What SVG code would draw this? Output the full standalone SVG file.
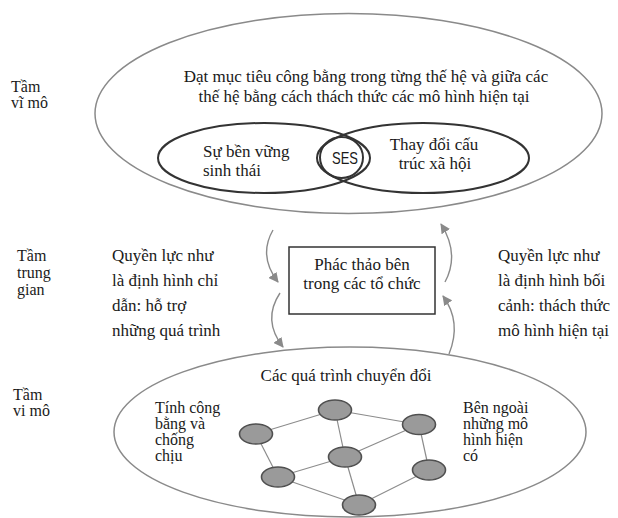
<svg xmlns="http://www.w3.org/2000/svg" width="618" height="518" viewBox="0 0 618 518">
<style>
text{font-family:"Liberation Serif","Times New Roman",serif;fill:#1a1a1a;font-size:17px}
.side{font-size:16px}
.small{font-size:16px}
.mid{text-anchor:middle}
.sans{font-family:"Liberation Sans",Arial,sans-serif;font-size:17px}
.gray{fill:none;stroke:#8a8a8a;stroke-width:1.5}
.dark{fill:none;stroke:#333;stroke-width:2}
.node{fill:#9a9a9a;stroke:#505050;stroke-width:1.6}
.edge{stroke:#8c8c8c;stroke-width:1.2;fill:none}
.arr{fill:none;stroke:#8a8a8a;stroke-width:1.4;marker-end:url(#ah)}
</style>
<defs>
<marker id="ah" viewBox="0 0 10 10" refX="9" refY="5" markerWidth="10" markerHeight="10" markerUnits="userSpaceOnUse" orient="auto">
<path d="M0,0 L10,5 L0,10 z" fill="#8a8a8a"/>
</marker>
</defs>
<rect width="618" height="518" fill="#fff"/>

<g id="label-macro">
<text class="side" x="11" y="92">Tầm</text>
<text class="side" x="11" y="108">vĩ mô</text>
</g>
<g id="label-meso">
<text class="side" x="17" y="261">Tầm</text>
<text class="side" x="17" y="278">trung</text>
<text class="side" x="17" y="295">gian</text>
</g>
<g id="label-micro">
<text class="side" x="13" y="400">Tầm</text>
<text class="side" x="13" y="416">vi mô</text>
</g>

<g id="macro">
<ellipse class="gray" cx="348.5" cy="113.5" rx="253.5" ry="100"/>
<text class="mid" x="366" y="82">Đạt mục tiêu công bằng trong từng thế hệ và giữa các</text>
<text class="mid" x="364" y="102">thế hệ bằng cách thách thức các mô hình hiện tại</text>
</g>
<g id="eco">
<ellipse class="dark" cx="264" cy="158" rx="106" ry="35"/>
<text x="203" y="157">Sự bền vững</text>
<text x="203" y="176">sinh thái</text>
</g>
<g id="social">
<ellipse class="dark" cx="423" cy="158" rx="106" ry="35"/>
<text class="mid" x="434" y="150">Thay đổi cấu</text>
<text class="mid" x="435" y="169">trúc xã hội</text>
</g>
<g id="ses">
<ellipse class="dark" cx="341.5" cy="157.5" rx="21.5" ry="20.5"/>
<text class="sans mid" x="345" y="164" textLength="26" lengthAdjust="spacingAndGlyphs">SES</text>
</g>

<g id="left-text">
<text x="112" y="261">Quyền lực như</text>
<text x="112" y="286">là định hình chỉ</text>
<text x="112" y="311">dẫn: hỗ trợ</text>
<text x="112" y="336">những quá trình</text>
</g>
<g id="right-text">
<text x="498" y="261">Quyền lực như</text>
<text x="498" y="286">là định hình bối</text>
<text x="498" y="311">cảnh: thách thức</text>
<text x="498" y="336">mô hình hiện tại</text>
</g>
<g id="org">
<rect x="289" y="247" width="146" height="67" fill="none" stroke="#333" stroke-width="1.5"/>
<text class="mid" x="362" y="270">Phác thảo bên</text>
<text class="mid" x="362" y="289">trong các tổ chức</text>
</g>

<g id="micro">
<ellipse class="gray" cx="350" cy="432" rx="236" ry="85"/>
<text class="mid" x="346" y="381">Các quá trình chuyển đổi</text>
<text class="small" x="155" y="413">Tính công</text>
<text class="small" x="155" y="429">bằng và</text>
<text class="small" x="155" y="445">chống</text>
<text class="small" x="155" y="461">chịu</text>
<text class="small" x="463" y="413">Bên ngoài</text>
<text class="small" x="463" y="429">những mô</text>
<text class="small" x="463" y="445">hình hiện</text>
<text class="small" x="463" y="461">có</text>
</g>

<g id="connectors">
<path class="arr" d="M273,230 Q258,256 278,282"/>
<path class="arr" d="M280,293 Q262,320 283,347"/>
<path class="arr" d="M449,354 Q462,322 443,296"/>
<path class="arr" d="M445,282 Q460,254 441,224"/>
<g class="edge">
<line x1="256" y1="434" x2="335" y2="410"/>
<line x1="335" y1="410" x2="419" y2="424.5"/>
<line x1="335" y1="410" x2="345" y2="457"/>
<line x1="345" y1="457" x2="419" y2="424.5"/>
<line x1="419" y1="424.5" x2="429" y2="470"/>
<line x1="256" y1="434" x2="278" y2="477"/>
<line x1="278" y1="477" x2="345" y2="457"/>
<line x1="345" y1="457" x2="359" y2="505"/>
<line x1="278" y1="477" x2="359" y2="505"/>
<line x1="429" y1="470" x2="359" y2="505"/>
</g>
</g>

<g id="node1"><ellipse class="node" cx="256" cy="434" rx="16.5" ry="10"/></g>
<g id="node2"><ellipse class="node" cx="335" cy="410" rx="16.5" ry="10"/></g>
<g id="node3"><ellipse class="node" cx="419" cy="424.5" rx="16.5" ry="10"/></g>
<g id="node4"><ellipse class="node" cx="345" cy="457" rx="16.5" ry="10"/></g>
<g id="node5"><ellipse class="node" cx="429" cy="470" rx="16.5" ry="10"/></g>
<g id="node6"><ellipse class="node" cx="278" cy="477" rx="16.5" ry="10"/></g>
<g id="node7"><ellipse class="node" cx="359" cy="505" rx="16.5" ry="10"/></g>
</svg>
